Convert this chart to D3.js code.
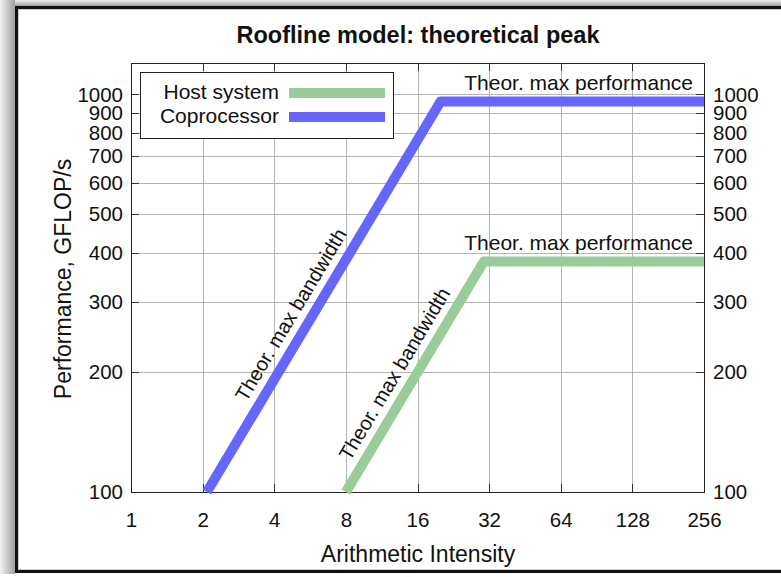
<!DOCTYPE html>
<meta charset="utf-8">
<head>
    <style>
        body{
            margin: 0;
            background-color: white;
        }
        text{
            font-family: "Liberation Sans", Arial, sans-serif;
            fill: #111;
        }
        .grid line{
            stroke: #b4b4b4;
            stroke-width: 1;
            shape-rendering: crispEdges;
        }
        .axis path{
            stroke-width: 0;
        }
        .axis line{
            stroke: #333;
            shape-rendering: crispEdges;
        }
        .axis text{
            font-size: 20.5px;
        }
    </style>
</head>
<body>
<div id="roof"></div>

<script src="https://d3js.org/d3.v7.min.js"></script>
<script>

    // data
    const xTicks = [1, 2, 4, 8, 16, 32, 64, 128, 256];
    const yTicks = [100, 200, 300, 400, 500, 600, 700, 800, 900, 1000];

    const seriesNames = ["Host system", "Coprocessor"];
    const seriesColors = ["#99cc99", "#6666ff"];

    // roofline points: intensity, GFLOP/s
    const hostX = [8, 30.4, 256];
    const hostY = [100, 380, 380];
    const copX = [2.083, 20, 256];
    const copY = [100, 960, 960];

    // where the "Theor. max bandwidth" labels sit along each slope (intensity)
    const bwLabelX = [15.0, 5.5];

    const W = 781, H = 577;
    const pLeft = 131, pRight = 704, pTop = 63, pBottom = 492;

    const svg = d3.select("#roof")
        .append("svg")
        .attr("width", W)
        .attr("height", H);

    // page frame with a bit of shadow
    const defs = svg.append("defs");
    const gl = defs.append("linearGradient").attr("id", "shL");
    gl.append("stop").attr("offset", "0%").attr("stop-color", "#f2f2f2");
    gl.append("stop").attr("offset", "100%").attr("stop-color", "#a0a0a0");
    const gt = defs.append("linearGradient").attr("id", "shT")
        .attr("x1", 0).attr("y1", 0).attr("x2", 0).attr("y2", 1);
    gt.append("stop").attr("offset", "0%").attr("stop-color", "#f2f2f2");
    gt.append("stop").attr("offset", "100%").attr("stop-color", "#a0a0a0");

    svg.append("rect").attr("x", 0).attr("y", 0).attr("width", 15).attr("height", 574)
        .attr("fill", "url(#shL)");
    svg.append("rect").attr("x", 15).attr("y", 0).attr("width", W).attr("height", 6)
        .attr("fill", "url(#shT)");
    svg.append("rect")
        .attr("x", 16.5).attr("y", 7.5)
        .attr("width", 800).attr("height", 564)
        .attr("fill", "white")
        .attr("stroke", "#111")
        .attr("stroke-width", 3);
    svg.append("rect")
        .attr("x", 18.5).attr("y", 9.5)
        .attr("width", 800).attr("height", 560)
        .attr("fill", "none")
        .attr("stroke", "#cfcfcf")
        .attr("stroke-width", 1);

    const x = d3.scaleLog().base(2)
        .domain([1, 256])
        .range([pLeft, pRight]);
    const y = d3.scaleLog()
        .domain([100, 1200])
        .range([pBottom, pTop]);

    // gridlines
    svg.append("g")
        .attr("class", "grid")
        .selectAll("line")
        .data(xTicks.slice(1, -1))
        .join("line")
        .attr("x1", d => Math.round(x(d)) + 0.5)
        .attr("x2", d => Math.round(x(d)) + 0.5)
        .attr("y1", pTop)
        .attr("y2", pBottom);
    svg.append("g")
        .attr("class", "grid")
        .selectAll("line")
        .data(yTicks.slice(1))
        .join("line")
        .attr("x1", pLeft)
        .attr("x2", pRight)
        .attr("y1", d => Math.round(y(d)) + 0.5)
        .attr("y2", d => Math.round(y(d)) + 0.5);

    // axes, ticks pointing inward
    svg.append("g")
        .attr("class", "axis")
        .attr("transform", `translate(0,${pBottom})`)
        .call(d3.axisBottom(x).tickValues(xTicks).tickFormat(d3.format("d"))
            .tickSize(-8).tickPadding(20));
    svg.append("g")
        .attr("class", "axis")
        .attr("transform", `translate(0,${pTop})`)
        .call(d3.axisTop(x).tickValues(xTicks).tickFormat("").tickSize(-8));
    svg.append("g")
        .attr("class", "axis")
        .attr("transform", `translate(${pLeft},0)`)
        .call(d3.axisLeft(y).tickValues(yTicks).tickFormat(d3.format("d"))
            .tickSize(-8).tickPadding(8));
    svg.append("g")
        .attr("class", "axis")
        .attr("transform", `translate(${pRight},0)`)
        .call(d3.axisRight(y).tickValues(yTicks).tickFormat(d3.format("d"))
            .tickSize(-8).tickPadding(9));

    svg.append("rect")
        .attr("x", pLeft + 0.5).attr("y", pTop + 0.5)
        .attr("width", pRight - pLeft).attr("height", pBottom - pTop)
        .attr("fill", "none")
        .attr("stroke", "#222")
        .attr("stroke-width", 1);

    // legend
    svg.append("rect")
        .attr("x", 140.5).attr("y", 72.5)
        .attr("width", 253).attr("height", 66)
        .attr("fill", "white")
        .attr("stroke", "#222");

    const series = [
        {name: seriesNames[0], color: seriesColors[0], xs: hostX, ys: hostY},
        {name: seriesNames[1], color: seriesColors[1], xs: copX, ys: copY}
    ];

    series.forEach(function(s, i) {
        const ly = 93 + i * 24;
        svg.append("line")
            .attr("x1", 289).attr("x2", 385)
            .attr("y1", ly).attr("y2", ly)
            .attr("stroke", s.color)
            .attr("stroke-width", 10);
        svg.append("text")
            .attr("x", 279)
            .attr("y", ly + 6)
            .attr("text-anchor", "end")
            .style("font-size", "21px")
            .text(s.name);
    });

    // the rooflines
    const line = d3.line()
        .x(d => x(d[0]))
        .y(d => y(d[1]));

    series.forEach(function(s) {
        svg.append("path")
            .datum(s.xs.map((v, k) => [v, s.ys[k]]))
            .attr("fill", "none")
            .attr("stroke", s.color)
            .attr("stroke-width", 10)
            .attr("stroke-linejoin", "round")
            .attr("d", line);
    });

    // slope angle in pixels (same for both, y = bw * x)
    const ang = Math.atan2(y(100) - y(1000), x(10) - x(1)) * 180 / Math.PI;

    series.forEach(function(s, i) {
        const bw = s.ys[1] / s.xs[1];
        const lx = bwLabelX[i];
        svg.append("text")
            .attr("transform", `translate(${x(lx)},${y(lx * bw)}) rotate(${-ang})`)
            .attr("text-anchor", "middle")
            .attr("dy", -12)
            .style("font-size", "20px")
            .text("Theor. max bandwidth");

        svg.append("text")
            .attr("x", 693)
            .attr("y", y(s.ys[2]) - 12)
            .attr("text-anchor", "end")
            .style("font-size", "21px")
            .text("Theor. max performance");
    });

    // titles
    svg.append("text")
        .attr("x", 418)
        .attr("y", 43)
        .attr("text-anchor", "middle")
        .style("font-size", "23.5px")
        .style("font-weight", "bold")
        .text("Roofline model: theoretical peak");

    svg.append("text")
        .attr("x", 418)
        .attr("y", 562)
        .attr("text-anchor", "middle")
        .style("font-size", "23px")
        .text("Arithmetic Intensity");

    svg.append("text")
        .attr("transform", "translate(71,279) rotate(-90)")
        .attr("text-anchor", "middle")
        .style("font-size", "23px")
        .text("Performance, GFLOP/s");

</script>
</body>
